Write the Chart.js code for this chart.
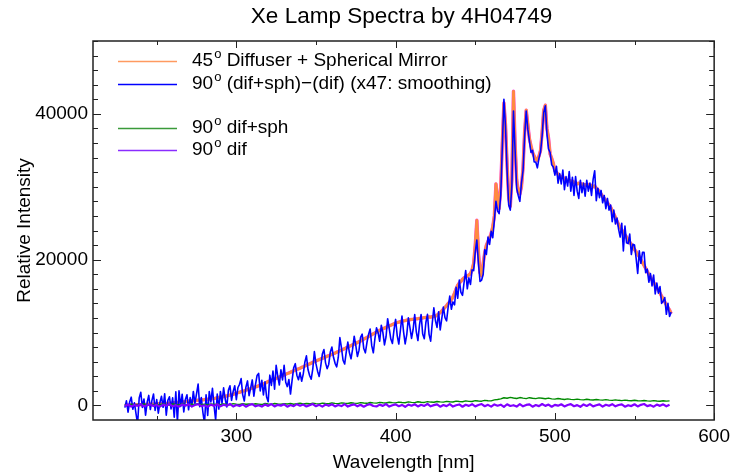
<!DOCTYPE html>
<html>
<head>
<meta charset="utf-8">
<script src="https://cdn.jsdelivr.net/npm/chart.js@4.4.0/dist/chart.umd.min.js"></script>
<style>
  html, body { margin: 0; padding: 0; background: #fff; }
  #grafico { display: block; }
</style>
</head>
<body>
<canvas id="grafico" width="735" height="475"></canvas>
<script>
// Wavelength grids (nm): fine = every 1 nm, coarse = every 2 nm
const wlStart = 230;
const wlFineEnd = 573;
const wlCoarseEnd = 572;

// Tick labels
const xTicks = [300, 400, 500, 600];
const yTicks = [0, 20000, 40000];

// 45deg Diffuser + Spherical Mirror (1 nm grid, 230..573)
const orangeVals = [
  0, 40, -20, 60, 30, 80, 50, 90, 70, 110,
  100, 130, 90, 150, 120, 170, 140, 190, 160, 210,
  200, 230, 190, 250, 240, 280, 260, 300, 290, 320,
  340, 380, 360, 420, 410, 460, 440, 500, 520, 560,
  600, 580, 640, 620, 690, 680, 730, 720, 780, 760,
  800, 850, 830, 890, 880, 940, 960, 1000, 1050, 1100,
  1120, 1180, 1210, 1280, 1300, 1370, 1400, 1500, 1520, 1600,
  1700, 1760, 1800, 1880, 1950, 2010, 2100, 2160, 2250, 2310,
  2400, 2460, 2550, 2600, 2700, 2780, 2850, 2950, 3050, 3150,
  3300, 3350, 3450, 3520, 3620, 3700, 3800, 3900, 3990, 4100,
  4200, 4280, 4380, 4450, 4560, 4640, 4750, 4830, 4950, 5020,
  5100, 5220, 5300, 5420, 5500, 5620, 5700, 5800, 5920, 6000,
  6100, 6200, 6280, 6380, 6450, 6560, 6640, 6750, 6820, 6920,
  7000, 7100, 7180, 7300, 7380, 7500, 7580, 7700, 7780, 7900,
  8000, 8120, 8200, 8320, 8400, 8540, 8620, 8750, 8840, 8980,
  9100, 9220, 9330, 9450, 9580, 9700, 9820, 9950, 10050, 10180,
  10300, 10400, 10520, 10600, 10720, 10800, 10920, 11000, 11100, 11200,
  11300, 11380, 11420, 11500, 11550, 11600, 11640, 11700, 11720, 11760,
  11800, 11820, 11860, 11880, 11900, 11950, 11980, 12000, 12050, 12080,
  12100, 12150, 12120, 12180, 12200, 12250, 12400, 12550, 12750, 12950,
  13200, 13450, 13700, 14000, 14200, 14500, 14900, 15400, 16000, 16500,
  16800, 17000, 17300, 17500, 17600, 17800, 17900, 18100, 18600, 19500,
  22000, 25400, 21000, 18200, 17800, 19500, 21000, 22000, 22500, 23000,
  23600, 24500, 26000, 30400, 28500, 27000, 30000, 36000, 41500, 38500,
  33000, 28500, 27300, 31000, 43100, 36000, 31000, 29200, 29000, 30000,
  32600, 37500, 40500, 38600, 36600, 35600, 34700, 34200, 33800, 33600,
  34200, 35000, 37500, 40500, 41200, 38000, 36700, 34500, 33900, 33200,
  32200, 32000, 31700, 31500, 31300, 31300, 31100, 31000, 30800, 30900,
  30700, 30800, 30600, 30500, 30400, 30500, 30300, 30400, 30200, 30300,
  30200, 30300, 30100, 30200, 30000, 30100, 29800, 29600, 29300, 29000,
  28700, 28400, 28100, 27800, 27500, 27200, 26700, 26300, 25800, 25300,
  24800, 24400, 24100, 23700, 23400, 23100, 22700, 22400, 22100, 21700,
  21400, 21100, 20700, 20400, 20000, 19600, 19200, 18800, 18400, 18000,
  17600, 17200, 16900, 16500, 16100, 15800, 15400, 15000, 14600, 14200,
  13800, 13400, 13100, 12600
];

// 90deg (dif+sph)-(dif) x47, smoothing (1 nm grid, 230..573)
const blueVals = [
  -300, 640, -920, 460, 1130, -520, 350, -1110, -2530, 1010,
  1800, -270, 890, -1350, 420, 1370, -560, 690, 1560, -690,
  800, -1070, 390, 1250, -260, 1580, -1340, 700, 1190, -480,
  1040, -1620, 1860, -2280, 2010, -140, 1540, -900, 820, 1460,
  -600, 1080, -160, 1920, 290, 1580, 2930, -180, 1080, -940,
  -2500, 1450, -1370, 1890, 480, 2340, -40, -2000, 1550, -500,
  1920, 280, 2410, 880, -200, 2070, 2700, 700, 1920, 2700,
  800, 2460, 2900, 3680, 1450, 610, 2500, 3360, 1350, 2410,
  3500, 1260, 2850, 4100, 4400, 1980, 3450, 1450, 3250, 1150,
  500, 4150, 2750, 4720, 2220, 5500, 4000, 2800, 4890, 3500,
  5500, 3180, 2580, 3550, 1560, 3440, 5150, 5730, 4150, 3520,
  4500, 3320, 4300, 5920, 6800, 4920, 4100, 3600, 5020, 7400,
  5700, 4700, 3980, 5380, 7050, 7660, 5840, 5050, 5620, 7320,
  8000, 6600, 5780, 5300, 6580, 9300, 7880, 6200, 5680, 7300,
  8700, 7220, 6400, 7720, 9500, 8240, 6720, 7550, 9340, 9780,
  7800, 7220, 8630, 9750, 10480, 8200, 7220, 9150, 10650, 9980,
  8800, 11000, 10020, 8300, 9420, 11900, 10520, 9100, 8500, 10400,
  11800, 9580, 8420, 10300, 12250, 10100, 8440, 9700, 12020, 10660,
  9200, 10420, 12460, 10080, 8900, 11050, 12480, 9800, 9150, 11380,
  12500, 9750, 8820, 11280, 13400, 11650, 10700, 12850, 10350, 11950,
  13500, 12050, 11600, 13500, 15000, 13200, 14200, 13800, 16200, 14700,
  17200, 15500, 15100, 16900, 18500, 16000, 17500, 16600, 18600, 18500,
  21000, 22700, 19500, 17000, 17200, 18000, 21400, 20700, 23100, 22100,
  23900, 23000, 25400, 28000, 26700, 26300, 28800, 35500, 42000, 38200,
  32100, 27500, 26800, 30200, 40400, 35100, 29800, 28800, 28000, 30500,
  32200, 36900, 40400, 37900, 36300, 34700, 35000, 33400, 33400, 32600,
  33900, 34800, 37000, 40200, 41100, 37300, 35200, 34700, 33000, 32700,
  31600, 32800, 30500, 31800, 30400, 32300, 29600, 31400, 30100, 32100,
  29400, 31300, 28800, 31400, 29400, 28400, 30900, 29200, 30500, 28700,
  30900, 29400, 30500, 28800, 31000, 32200, 28100, 29800, 28500, 29500,
  27800, 28800, 27000, 28400, 26800, 27500, 25200, 26800, 24900, 25700,
  24200, 23100, 25000, 21200, 24600, 22300, 22200, 23500, 20700, 22100,
  22000, 20200, 18100, 21200, 19500, 21000, 21000, 18200, 18700, 16900,
  18100, 16400, 17900, 15300, 16800, 15400, 16300, 14000, 14300, 14800,
  12500, 14000, 12200, 12800
];

// 90deg dif+sph (2 nm grid, 230..572)
const greenVals = [
  120, 40, 180, 60, 150, 90, 200, 30, 160, 110,
  140, 70, 210, 100, 60, 190, 130, 80, 220, 150,
  90, 170, 120, 230, 100, 160, 70, 200, 140, 180,
  110, 220, 150, 90, 240, 170, 130, 250, 160, 200,
  140, 230, 180, 120, 260, 190, 150, 270, 210, 170,
  240, 200, 280, 160, 230, 300, 190, 260, 220, 310,
  250, 200, 320, 270, 230, 340, 280, 240, 350, 300,
  260, 370, 310, 280, 390, 330, 290, 400, 350, 310,
  420, 370, 330, 440, 380, 350, 460, 400, 370, 480,
  420, 390, 500, 440, 410, 520, 460, 430, 540, 480,
  450, 560, 500, 470, 590, 530, 500, 620, 560, 540,
  650, 600, 580, 700, 640, 620, 760, 820, 900, 1050,
  980, 1100, 1020, 950, 1080, 1000, 930, 1060, 990, 940,
  1040, 980, 920, 1010, 900, 860, 950, 880, 820, 900,
  830, 790, 870, 800, 760, 840, 780, 740, 820, 760,
  720, 790, 730, 690, 760, 700, 660, 730, 680, 640,
  710, 650, 620, 680, 630, 590, 660, 610, 580, 640,
  590, 620
];

// 90deg dif (2 nm grid, 230..572)
const purpleVals = [
  -80, 120, -150, 60, -40, 170, -120, 30, 140, -90,
  80, -160, 110, -50, 190, -110, 40, -170, 130, -30,
  150, -140, 60, 180, -100, 20, -180, 120, -60, 160,
  -130, 90, -40, 200, -150, 70, -90, 140, -170, 50,
  180, -120, 30, -160, 120, -60, 190, -140, 80, -30,
  150, -180, 60, -100, 170, -40, 120, -150, 40, 190,
  -110, 80, -170, 130, -50, 160, -130, 60, -90, 180,
  -150, 40, 140, -120, 90, -180, 50, 170, -80, -140,
  110, -60, 190, -160, 30, 140, -110, 70, -190, 120,
  -40, 160, -140, 90, -70, 200, -120, 40, 150, -170,
  60, -100, 180, -150, 20, 130, -180, 90, -60, 170,
  -130, 50, 190, -110, 80, -160, 140, -40, 100, -190,
  160, -80, 30, -150, 180, -120, 70, 140, -170, 50,
  -100, 190, -60, 120, -180, 80, -30, 160, -140, 60,
  170, -110, 40, -190, 130, -70, 180, -130, 20, 150,
  -160, 90, -50, 170, -120, 60, 140, -180, 30, -90,
  160, -140, 80, 190, -100, 40, -170, 120, -60, 150,
  -120, 90
];

const wlFine = [];
for (let w = wlStart; w <= wlFineEnd; w++) wlFine.push(w);
const wlCoarse = [];
for (let w = wlStart; w <= wlCoarseEnd; w += 2) wlCoarse.push(w);

function pares(xs, ys) {
  return ys.map(function(y, i) { return { x: xs[i], y: y }; });
}

const FONTE = "'Liberation Sans', Arial, sans-serif";

const legenda = [
  { num: '45', txt: ' Diffuser + Spherical Mirror', cor: '#ff9a60', y: 61 },
  { num: '90', txt: ' (dif+sph)\u2212(dif) (x47: smoothing)', cor: '#0000ff', y: 84 },
  { num: '90', txt: ' dif+sph', cor: '#3a9a3a', y: 128 },
  { num: '90', txt: ' dif', cor: '#8a2cff', y: 150 }
];

// moldura, ticks para dentro, titulos e legenda
const estiloIDL = {
  id: 'estiloIDL',
  afterDraw: function(chart) {
    const ctx = chart.ctx;
    const a = chart.chartArea;
    const sx = chart.scales.x;
    const sy = chart.scales.y;
    ctx.save();
    ctx.strokeStyle = '#222';
    ctx.lineWidth = 1.5;
    ctx.strokeRect(a.left, a.top, a.right - a.left, a.bottom - a.top);

    ctx.lineWidth = 1;
    ctx.beginPath();
    for (let v = 250; v <= 600; v += 50) {
      const px = Math.round(sx.getPixelForValue(v)) + 0.5;
      const len = (v % 100 === 0) ? 7 : 4;
      ctx.moveTo(px, a.bottom); ctx.lineTo(px, a.bottom - len);
      ctx.moveTo(px, a.top); ctx.lineTo(px, a.top + len);
    }
    for (let v = 0; v <= 50000; v += 2000) {
      const py = Math.round(sy.getPixelForValue(v)) + 0.5;
      const len = (v % 20000 === 0) ? 8 : 5;
      ctx.moveTo(a.left, py); ctx.lineTo(a.left + len, py);
      ctx.moveTo(a.right, py); ctx.lineTo(a.right - len, py);
    }
    ctx.stroke();

    const cx = (a.left + a.right) / 2;
    ctx.fillStyle = '#000';
    ctx.textAlign = 'center';
    ctx.textBaseline = 'middle';
    ctx.font = '22.5px ' + FONTE;
    ctx.fillText('Xe Lamp Spectra by 4H04749', cx - 2, 17);
    ctx.font = '19px ' + FONTE;
    ctx.fillText('Wavelength [nm]', cx, 463);
    ctx.save();
    ctx.translate(25, (a.top + a.bottom) / 2);
    ctx.rotate(-Math.PI / 2);
    ctx.fillText('Relative Intensity', 0, 0);
    ctx.restore();

    // legenda
    ctx.textAlign = 'left';
    legenda.forEach(function(item) {
      ctx.strokeStyle = item.cor;
      ctx.lineWidth = 1.5;
      ctx.beginPath();
      ctx.moveTo(118, item.y + 0.5);
      ctx.lineTo(177, item.y + 0.5);
      ctx.stroke();
      let x = 192;
      ctx.font = '19px ' + FONTE;
      ctx.fillText(item.num, x, item.y);
      x += ctx.measureText(item.num).width + 1;
      ctx.font = '13px ' + FONTE;
      ctx.fillText('o', x, item.y - 7);
      x += ctx.measureText('o').width;
      ctx.font = '19px ' + FONTE;
      ctx.fillText(item.txt, x, item.y);
    });
    ctx.restore();
  }
};

const ctx = document.getElementById('grafico');
new Chart(ctx, {
  type: 'line',
  data: {
    datasets: [
      {
        label: '90 dif',
        data: pares(wlCoarse, purpleVals),
        borderColor: '#8000ff',
        borderWidth: 2.2,
        order: 0
      },
      {
        label: '90 dif+sph',
        data: pares(wlCoarse, greenVals),
        borderColor: '#008a00',
        borderWidth: 1.4,
        order: 1
      },
      {
        label: '90 (dif+sph)-(dif)',
        data: pares(wlFine, blueVals),
        borderColor: '#0000ff',
        borderWidth: 1.6,
        order: 2
      },
      {
        label: '45 Diffuser + Spherical Mirror',
        data: pares(wlFine, orangeVals),
        borderColor: '#ff8a40',
        borderWidth: 2.8,
        order: 3
      },
      {
        label: '',
        data: pares(wlFine, orangeVals),
        borderColor: '#ff40e0',
        borderWidth: 3.4,
        order: 4
      }
    ]
  },
  options: {
    responsive: false,
    animation: false,
    devicePixelRatio: 1,
    parsing: false,
    normalized: true,
    elements: {
      point: { radius: 0 },
      line: { tension: 0, fill: false, borderJoinStyle: 'round' }
    },
    layout: { padding: { top: 41, right: 18, left: 0, bottom: 0 } },
    plugins: {
      legend: { display: false },
      title: { display: false },
      tooltip: { enabled: false }
    },
    scales: {
      x: {
        type: 'linear',
        min: 210,
        max: 600,
        grid: { display: false, drawTicks: false },
        border: { display: false },
        afterBuildTicks: function(scale) {
          scale.ticks = xTicks.map(function(v) { return { value: v }; });
        },
        afterFit: function(scale) { scale.height = 55; },
        ticks: {
          padding: 5,
          maxRotation: 0,
          color: '#000',
          font: { family: FONTE, size: 19 },
          callback: function(value) { return String(value); }
        }
      },
      y: {
        type: 'linear',
        min: -2000,
        max: 50000,
        grid: { display: false, drawTicks: false },
        border: { display: false },
        afterBuildTicks: function(scale) {
          scale.ticks = yTicks.map(function(v) { return { value: v }; });
        },
        afterFit: function(scale) { scale.width = 93; },
        ticks: {
          padding: 5,
          color: '#000',
          font: { family: FONTE, size: 19 },
          callback: function(value) { return String(value); }
        }
      }
    }
  },
  plugins: [estiloIDL]
});
</script>
</body>
</html>
